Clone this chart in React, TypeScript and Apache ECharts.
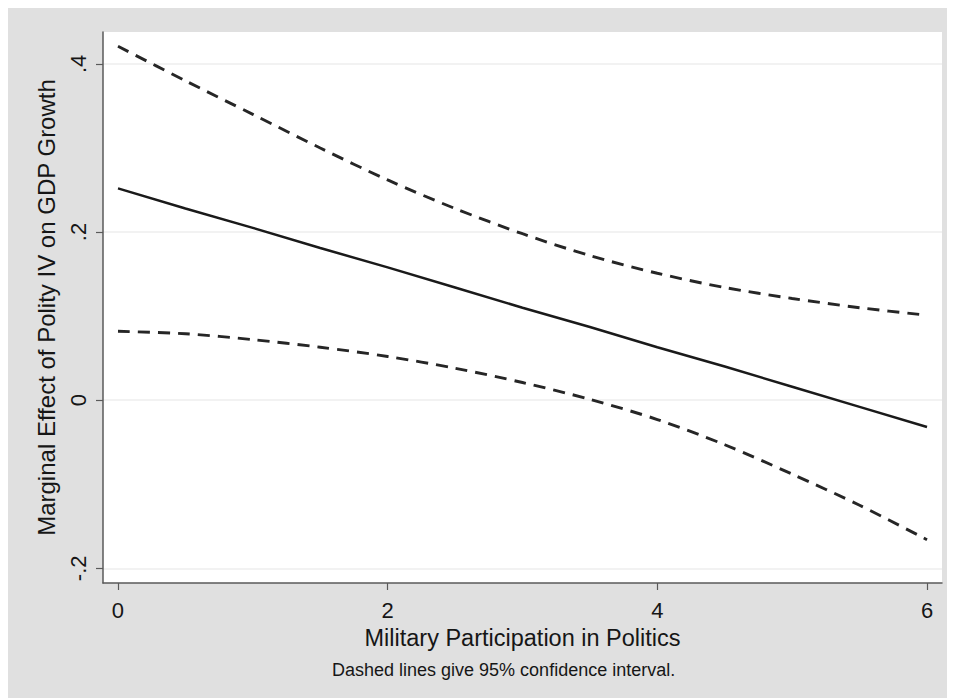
import React, { useEffect, useRef } from "react";
import * as echarts from "echarts";

const xValues = [0, 0.5, 1, 1.5, 2, 2.5, 3, 3.5, 4, 4.5, 5, 5.5, 6];
const marginalEffect = [0.252, 0.228, 0.205, 0.181, 0.158, 0.134, 0.110, 0.087, 0.063, 0.040, 0.016, -0.008, -0.032];
const upperCI = [0.421, 0.380, 0.340, 0.300, 0.262, 0.228, 0.198, 0.172, 0.151, 0.134, 0.121, 0.110, 0.101];
const lowerCI = [0.082, 0.079, 0.072, 0.063, 0.052, 0.038, 0.021, 0.001, -0.023, -0.053, -0.088, -0.125, -0.166];
const xTicks = [0, 2, 4, 6];
const yTicks = [-0.2, 0, 0.2, 0.4];

const xTitle = "Military Participation in Politics";
const yTitle = "Marginal Effect of Polity IV on GDP Growth";
const note = "Dashed lines give 95% confidence interval.";

const FONT = "'Liberation Sans', Arial, Helvetica, sans-serif";
const TEXT = "#161616";

function pairs(ys: number[]) {
  return xValues.map((x, i) => [x, ys[i]]);
}

export default function App() {
  const ref = useRef<HTMLDivElement>(null);
  useEffect(() => {
    if (!ref.current) return;
    const chart = echarts.init(ref.current, undefined, { renderer: "svg" });
    chart.setOption({
      animation: false,
      backgroundColor: "#e0e0e0",
      textStyle: { fontFamily: FONT },
      grid: {
        left: 95,
        top: 24,
        right: 13,
        bottom: 115,
        show: true,
        backgroundColor: "#ffffff",
        borderWidth: 0,
      },
      xAxis: {
        type: "value",
        min: -0.1112,
        max: 6.1112,
        name: xTitle,
        nameLocation: "middle",
        nameGap: 40,
        nameTextStyle: { fontSize: 23.5, color: TEXT, fontFamily: FONT },
        axisLine: { show: true, onZero: false, lineStyle: { color: "#5a5a5a", width: 1.5 } },
        axisTick: { show: true, length: 7, customValues: xTicks, lineStyle: { color: "#5a5a5a", width: 1.2 } },
        axisLabel: {
          customValues: xTicks,
          fontSize: 22,
          color: TEXT,
          margin: 16,
          fontFamily: FONT,
        },
        splitLine: { show: false },
      },
      yAxis: {
        type: "value",
        min: -0.2175,
        max: 0.438,
        name: yTitle,
        nameLocation: "middle",
        nameRotate: 90,
        nameGap: 45,
        nameTextStyle: { fontSize: 24, color: TEXT, fontFamily: FONT },
        axisLine: { show: true, onZero: false, lineStyle: { color: "#5a5a5a", width: 1.5 } },
        axisTick: { show: true, length: 7, customValues: yTicks, lineStyle: { color: "#5a5a5a", width: 1.2 } },
        axisLabel: {
          customValues: yTicks,
          rotate: 90,
          fontSize: 22,
          color: TEXT,
          margin: 14,
          fontFamily: FONT,
          formatter: (v: number) => {
            if (Math.abs(v) < 1e-9) return "0";
            const s = String(Math.round(v * 10) / 10);
            return s.replace("0.", ".");
          },
        },
        splitLine: { show: true, lineStyle: { color: "#eeeeee", width: 1.5 } },
      },
      graphic: [
        {
          type: "text",
          left: 498 - 174,
          top: 663 - 10,
          style: {
            text: note,
            fontSize: 18,
            fill: TEXT,
            fontFamily: FONT,
          },
        },
      ],
      series: [
        {
          type: "line",
          data: pairs(upperCI),
          showSymbol: false,
          smooth: 0.3,
          lineStyle: { color: "#262626", width: 2.9, type: [12, 8] },
        },
        {
          type: "line",
          data: pairs(marginalEffect),
          showSymbol: false,
          lineStyle: { color: "#1a1a1a", width: 2.5, type: "solid" },
        },
        {
          type: "line",
          data: pairs(lowerCI),
          showSymbol: false,
          smooth: 0.3,
          lineStyle: { color: "#262626", width: 2.9, type: [12, 8] },
        },
      ],
    });
    return () => chart.dispose();
  }, []);
  return <div ref={ref} style={{ width: 947, height: 690 }} />;
}
